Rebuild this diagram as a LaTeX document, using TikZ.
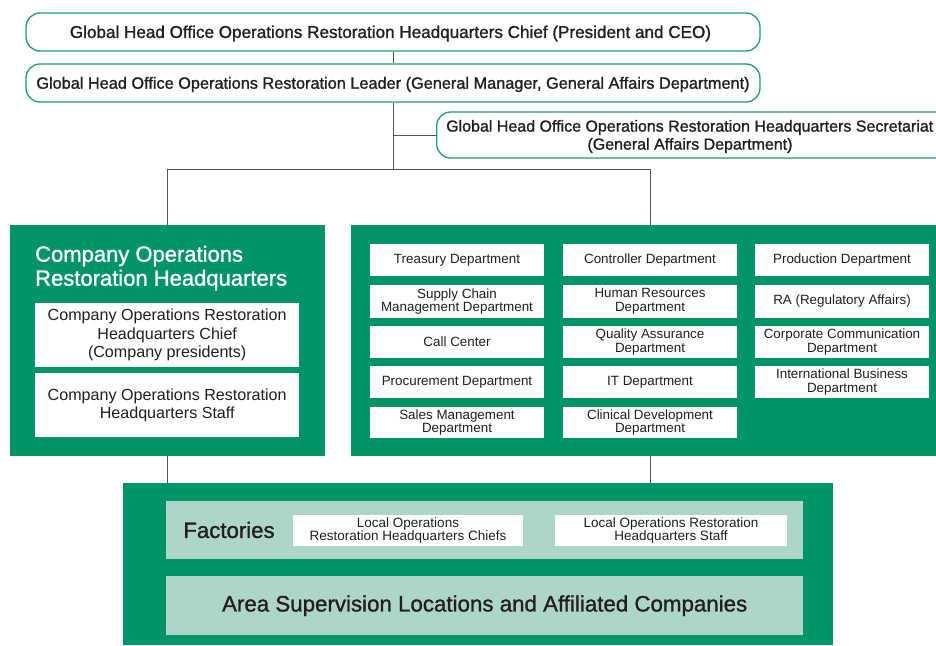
\documentclass[tikz,border=0pt]{standalone}
\usepackage{fontspec}
\setmainfont{Liberation Sans}
\newfontfamily\medfont[FakeBold=1.2]{Liberation Sans}
\newfontfamily\condfont{Liberation Sans}
\definecolor{hgreen}{HTML}{009468}
\definecolor{lgreen}{HTML}{ADD6C9}
\definecolor{bgreen}{HTML}{1E9E73}
\definecolor{txt}{HTML}{231F20}
\definecolor{ln}{HTML}{555555}
\tikzset{
  rbox/.style={draw=bgreen, line width=1.3pt, rounded corners=14pt, fill=white, inner sep=0pt},
  gbox/.style={fill=hgreen, draw=none, inner sep=0pt},
  lbox/.style={fill=lgreen, draw=none, inner sep=0pt},
  wbox/.style={fill=white, draw=none, inner sep=0pt},
  dept/.style={wbox, minimum width=174pt, align=center, text=txt, font=\condfont\fontsize{13.4}{13.6}\selectfont},
  conn/.style={draw=ln, line width=0.9pt},
  ttl/.style={text=txt, font=\medfont\fontsize{16}{18}\selectfont, inner sep=0pt}
}
\begin{document}
\begin{tikzpicture}[x=1pt,y=-1pt]
\useasboundingbox (0,0) rectangle (936,645);
\clip (0,0) rectangle (936,645);
\coordinate (j1) at (393,169);
\coordinate (jl) at (167,169);
\coordinate (jr) at (650,169);
\coordinate (jb) at (393,135);
% top boxes
\node[rbox, minimum width=734pt, minimum height=38pt] (chief) at (393,32) {};
\node[ttl, font=\medfont\fontsize{17.1}{18}\selectfont] at (390.5,33.5) {Global Head Office Operations Restoration Headquarters Chief (President and CEO)};
\node[rbox, minimum width=734pt, minimum height=38pt] (leader) at (393,83) {};
\node[ttl, font=\medfont\fontsize{16.3}{18}\selectfont] at (393,84.5) {Global Head Office Operations Restoration Leader (General Manager, General Affairs Department)};
\node[rbox, minimum width=520pt, minimum height=46pt, anchor=west] (secr) at (436,135) {};
\node[ttl, anchor=west] at (446,127.5) {Global Head Office Operations Restoration Headquarters Secretariat};
\node[ttl] at (690,145.5) {(General Affairs Department)};
\draw[conn] (chief.south -| leader.north) -- (leader.north);
\draw[conn] (leader.south) -- (j1);
\draw[conn] (jb) -- (secr.west);
\draw[conn] (jl) -- (jr);
% left green box
\node[gbox, minimum width=315pt, minimum height=231pt, anchor=north west] (left) at (10,225) {};
\node[anchor=west, align=left, text=white, font=\medfont\fontsize{22}{24}\selectfont, inner sep=0pt] at (35,268) {Company Operations\\Restoration Headquarters};
\node[wbox, minimum width=264pt, minimum height=64pt, anchor=north west, align=center, text=txt, font=\fontsize{16.1}{18.5}\selectfont] (lc) at (35,303) {Company Operations Restoration\\Headquarters Chief\\(Company presidents)};
\node[wbox, minimum width=264pt, minimum height=64pt, anchor=north west, align=center, text=txt, font=\fontsize{16.1}{18.5}\selectfont] (ls) at (35,373) {Company Operations Restoration\\Headquarters Staff};
% right green box
\node[gbox, minimum width=600pt, minimum height=231pt, anchor=north west] (right) at (351,225) {};
\node[dept, minimum height=32pt] (d11) at (457,260) {Treasury Department};
\node[dept, minimum height=33pt] (d21) at (457,301.5) {Supply Chain\\Management Department};
\node[dept, minimum height=32pt] (d31) at (457,342) {Call Center};
\node[dept, minimum height=32pt] (d41) at (457,382) {Procurement Department};
\node[dept, minimum height=31pt] (d51) at (457,422.5) {Sales Management\\Department};
\node[dept, minimum height=32pt] (d12) at (650,260) {Controller Department};
\node[dept, minimum height=33pt] (d22) at (650,301.5) {Human Resources\\Department};
\node[dept, minimum height=32pt] (d32) at (650,342) {Quality Assurance\\Department};
\node[dept, minimum height=32pt] (d42) at (650,382) {IT Department};
\node[dept, minimum height=31pt] (d52) at (650,422.5) {Clinical Development\\Department};
\node[dept, minimum height=32pt] (d13) at (842,260) {Production Department};
\node[dept, minimum height=33pt] (d23) at (842,301.5) {RA (Regulatory Affairs)};
\node[dept, minimum height=32pt] (d33) at (842,342) {Corporate Communication\\Department};
\node[dept, minimum height=32pt] (d43) at (842,382) {International Business\\Department};
\draw[conn] (jl) -- (left.north -| jl);
\draw[conn] (jr) -- (right.north -| jr);
% bottom green box
\node[gbox, minimum width=710pt, minimum height=162pt, anchor=north west] (bottom) at (123,483) {};
\node[lbox, minimum width=637pt, minimum height=58pt, anchor=north west] (fact) at (166,501) {};
\node[lbox, minimum width=637pt, minimum height=59pt, anchor=north west, text=txt, font=\medfont\fontsize{22.3}{24}\selectfont] (area) at (166,576) {Area Supervision Locations and Affiliated Companies};
\node[text=txt, font=\medfont\fontsize{22.2}{24}\selectfont, inner sep=0pt] (factt) at (229,530) {Factories};
\node[wbox, minimum width=230pt, minimum height=31pt, align=center, text=txt, font=\condfont\fontsize{13.5}{13.5}\selectfont] (lchief) at (408,530.5) {Local Operations\\Restoration Headquarters Chiefs};
\node[wbox, minimum width=232pt, minimum height=31pt, align=center, text=txt, font=\condfont\fontsize{13.5}{13.5}\selectfont] (lstaff) at (671,530.5) {Local Operations Restoration\\Headquarters Staff};
\draw[conn] (left.south -| jl) -- (bottom.north -| jl);
\draw[conn] (right.south -| jr) -- (bottom.north -| jr);
\end{tikzpicture}
\end{document}
